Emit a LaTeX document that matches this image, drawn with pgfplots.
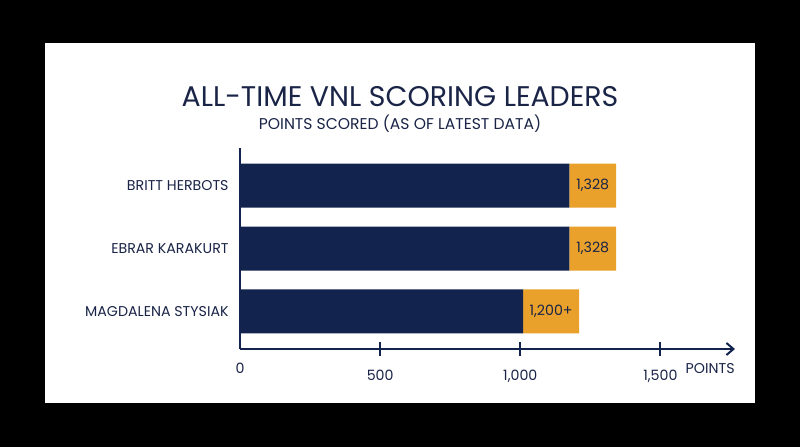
\documentclass[border=0pt]{standalone}
\usepackage{fontspec}
\setmainfont{Poppins}
\usepackage{pgfplots}
\usepackage{pgfplotstable}
\pgfplotsset{compat=1.18}
\usetikzlibrary{arrows.meta}

\definecolor{navy}{HTML}{12244E}
\definecolor{gold}{HTML}{E9A12B}
\definecolor{ink}{HTML}{1A2447}

% y: 0 = bottom row; base = navy part, extra = gold part
\pgfplotstableread{
y base extra label
2 1175 167 1,328
1 1175 167 1,328
0 1010 200 1,200+
}\scoring

\begin{document}
\begin{tikzpicture}
\fill[black] (0pt,0pt) rectangle (400pt,223.5pt);
\fill[white] (22.5pt,22pt) rectangle (377.5pt,202pt);
\node[ink, anchor=base, inner sep=0pt, font=\fontsize{14.2}{16}\selectfont] at (200pt,170.2pt) {ALL-TIME VNL SCORING LEADERS};
\node[ink, anchor=base, inner sep=0pt, font=\fontsize{7.8}{9}\selectfont] at (200pt,159pt) {POINTS SCORED (AS OF LATEST DATA)};
\begin{axis}[
    at={(120pt,49pt)}, anchor=south west,
    scale only axis,
    width=247.5pt, height=100.5pt,
    xmin=0, xmax=1766,
    ymin=-0.6, ymax=2.6,
    xbar stacked,
    bar width=22pt,
    axis x line*=bottom,
    axis y line*=left,
    axis line style={navy, line width=1pt},
    x axis line style={-{Straight Barb[length=3.5pt,width=6pt,line width=1pt]}},
    xtick={500,1000,1500},
    extra x ticks={0},
    extra x tick style={major tick length=0pt},
    tick align=center,
    major tick length=7pt,
    tick style={navy, line width=1pt},
    ytick={0,1,2},
    yticklabels={MAGDALENA STYSIAK, EBRAR KARAKURT, BRITT HERBOTS},
    ytick style={draw=none},
    /pgf/number format/assume math mode=true,
    /pgf/number format/1000 sep={,},
    tick label style={ink, font=\fontsize{7.1}{8}\selectfont},
    xticklabel style={inner sep=0pt, anchor=base, yshift=-12pt},
    yticklabel style={inner sep=0pt, anchor=east, xshift=-2pt},
    clip=false,
]
\addplot[fill=navy, draw=none] table[x=base, y=y] {\scoring};
% labels sit in the middle of the gold segment
\addplot[fill=gold, draw=none,
    nodes near coords,
    point meta=explicit symbolic,
    every node near coord/.append style={ink, anchor=center, inner sep=0pt, font=\fontsize{7.1}{8}\selectfont},
    ] table[x=extra, y=y, meta=label] {\scoring};
\node[ink, anchor=base east, inner sep=0pt, font=\fontsize{7.1}{8}\selectfont] at (rel axis cs:1,0) [yshift=-12pt] {POINTS};
\end{axis}
\end{tikzpicture}
\end{document}
